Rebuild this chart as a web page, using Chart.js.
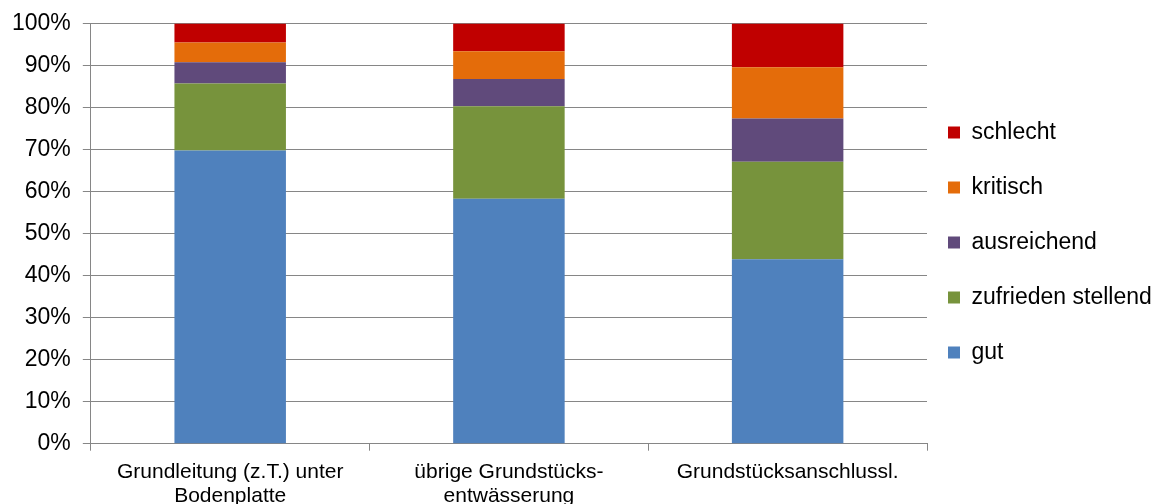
<!DOCTYPE html>
<html>
<head>
<meta charset="utf-8">
<script src="https://cdn.jsdelivr.net/npm/chart.js@4/dist/chart.umd.min.js"></script>
<style>
  html, body { margin: 0; padding: 0; background: #fff; overflow: hidden; }
  #wrap { width: 1157px; height: 504px; overflow: hidden; }
  canvas { display: block; }
</style>
</head>
<body>
<div id="wrap"><canvas id="c" width="1157" height="504"></canvas></div>
<script>
const categories = [
  ['Grundleitung (z.T.) unter', 'Bodenplatte'],
  ['übrige Grundstücks-', 'entwässerung'],
  'Grundstücksanschlussl.'
];
const gut = [69.8, 58.3, 43.9];
const zufrieden = [15.9, 22.0, 23.2];
const ausreichend = [5.1, 6.5, 10.3];
const kritisch = [4.7, 6.6, 12.2];
const schlecht = [4.5, 6.6, 10.4];
const yTicks = [0, 10, 20, 30, 40, 50, 60, 70, 80, 90, 100];

const FONT = "'Liberation Sans', Arial, sans-serif";
const GRID = '#868686';

const legendNudge = {
  id: 'legendNudge',
  afterLayout(chart) {
    const lg = chart.legend;
    if (!lg) return;
    lg.left -= 11;
    lg.width += 11;
    lg.top -= 19; lg.bottom -= 19;
  }
};

new Chart(document.getElementById('c'), {
  type: 'bar',
  data: {
    labels: categories,
    datasets: [
      { label: 'gut', data: gut, backgroundColor: '#4F81BD' },
      { label: 'zufrieden stellend', data: zufrieden, backgroundColor: '#77933C' },
      { label: 'ausreichend', data: ausreichend, backgroundColor: '#604A7B' },
      { label: 'kritisch', data: kritisch, backgroundColor: '#E46C0A' },
      { label: 'schlecht', data: schlecht, backgroundColor: '#C00000' }
    ]
  },
  options: {
    responsive: false,
    animation: false,
    devicePixelRatio: 1,
    layout: { padding: { top: 6, left: 0, right: 0, bottom: -13 } },
    datasets: { bar: { categoryPercentage: 1, barPercentage: 0.4, borderWidth: 0 } },
    plugins: {
      tooltip: { enabled: false },
      legend: {
        position: 'right',
        reverse: true,
        maxWidth: 230,
        labels: {
          boxWidth: 12,
          boxHeight: 12,
          padding: 32,
          color: '#000',
          font: { family: FONT, size: 23 }
        }
      }
    },
    scales: {
      x: {
        stacked: true,
        grid: { display: true, drawOnChartArea: false, drawTicks: true, tickLength: 7, color: GRID, lineWidth: 1 },
        border: { color: GRID, width: 1 },
        ticks: {
          color: '#000',
          font: { family: FONT, size: 21, lineHeight: 1.15 },
          padding: 9,
          maxRotation: 0,
          autoSkip: false
        }
      },
      y: {
        stacked: true,
        min: 0,
        max: 100,
        afterBuildTicks(scale) { scale.ticks = yTicks.map(v => ({ value: v })); },
        grid: { color: GRID, lineWidth: 1, tickLength: 8 },
        border: { color: GRID, width: 1 },
        ticks: {
          color: '#000',
          font: { family: FONT, size: 23, lineHeight: 1 },
          padding: 12,
          callback: v => v + '%'
        }
      }
    }
  },
  plugins: [legendNudge]
});
</script>
</body>
</html>
